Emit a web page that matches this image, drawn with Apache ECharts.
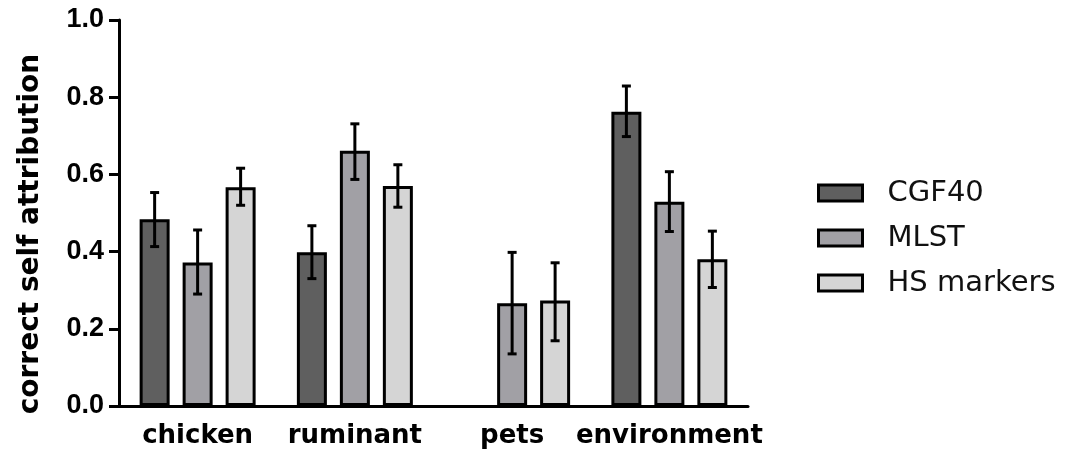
<!DOCTYPE html>
<html>
<head>
<meta charset="utf-8">
<title>correct self attribution</title>
<script src="https://cdn.jsdelivr.net/npm/echarts@6/dist/echarts.min.js"></script>
<style>
  html, body { margin: 0; padding: 0; background: #fff; }
  #chart { width: 1070px; height: 452px; }
</style>
</head>
<body>
<div id="chart"></div>
<script>
// Source groups on the x axis
const categories = ['chicken', 'ruminant', 'pets', 'environment'];
const seriesNames = ['CGF40', 'MLST', 'HS markers'];

// Mean correct self attribution per method (null = not available)
const cgf40Values = [0.484, 0.398, null, 0.762];
const mlstValues  = [0.372, 0.661, 0.266, 0.529];
const hsValues    = [0.567, 0.570, 0.273, 0.380];

// Lower / upper ends of the error bars
const cgf40Low  = [0.413, 0.330, null, 0.698];
const cgf40High = [0.553, 0.467, null, 0.829];
const mlstLow   = [0.290, 0.587, 0.135, 0.452];
const mlstHigh  = [0.456, 0.731, 0.398, 0.607];
const hsLow     = [0.520, 0.515, 0.169, 0.307];
const hsHigh    = [0.616, 0.625, 0.371, 0.453];

const yTicks = [0, 0.2, 0.4, 0.6, 0.8, 1.0];

const colors = ['#5f5f5f', '#a1a0a5', '#d5d5d5'];
const BAR_W = 30;
const BAR_GAP = 0.433;

const values = [cgf40Values, mlstValues, hsValues];
const lows = [cgf40Low, mlstLow, hsLow];
const highs = [cgf40High, mlstHigh, hsHigh];

const barSeries = seriesNames.map((name, i) => ({
  name: name,
  type: 'bar',
  data: values[i],
  barWidth: BAR_W,
  barGap: (BAR_GAP * 100) + '%',
  itemStyle: { color: colors[i], borderColor: '#000', borderWidth: 3 },
  emphasis: { disabled: true },
  z: 2
}));

// Error bars drawn on top of each bar, shifted to that bar's slot in the group
const errorSeries = seriesNames.map((name, i) => ({
  type: 'custom',
  name: name + ' error',
  data: categories.map((c, k) => lows[i][k] == null ? null : [k, lows[i][k], highs[i][k]]),
  z: 5,
  silent: true,
  renderItem: function (params, api) {
    const k = api.value(0);
    const shift = (i - 1) * BAR_W * (1 + BAR_GAP);
    const lo = api.coord([k, api.value(1)]);
    const hi = api.coord([k, api.value(2)]);
    const x = lo[0] + shift;
    const cap = 4.5;
    const style = { stroke: '#000', lineWidth: 3 };
    return {
      type: 'group',
      children: [
        { type: 'line', shape: { x1: x, y1: lo[1], x2: x, y2: hi[1] }, style: style },
        { type: 'line', shape: { x1: x - cap, y1: hi[1], x2: x + cap, y2: hi[1] }, style: style },
        { type: 'line', shape: { x1: x - cap, y1: lo[1], x2: x + cap, y2: lo[1] }, style: style }
      ]
    };
  },
  encode: { x: 0, y: [1, 2] }
}));

const chart = echarts.init(document.getElementById('chart'), null, { renderer: 'canvas' });

chart.setOption({
  animation: false,
  backgroundColor: '#fff',
  grid: { left: 119, right: 322, top: 20, bottom: 46, containLabel: false },
  legend: {
    data: seriesNames,
    orient: 'vertical',
    left: 817,
    top: 177,
    padding: 0,
    icon: 'rect',
    itemWidth: 44,
    itemHeight: 16,
    itemGap: 13,
    itemStyle: { borderColor: '#000', borderWidth: 3 },
    textStyle: {
      fontFamily: 'DejaVu Sans',
      fontSize: 29,
      color: '#111',
      lineHeight: 32,
      padding: [0, 0, 0, 20]
    },
    selectedMode: false
  },
  xAxis: {
    type: 'category',
    data: categories,
    axisLine: { lineStyle: { color: '#000', width: 3 } },
    axisTick: { alignWithLabel: true, length: 10, lineStyle: { color: '#000', width: 3 } },
    axisLabel: {
      color: '#000',
      fontFamily: 'DejaVu Sans',
      fontWeight: 'bold',
      fontSize: 26,
      margin: 17,
      interval: 0
    },
    splitLine: { show: false }
  },
  yAxis: {
    type: 'value',
    min: yTicks[0],
    max: yTicks[yTicks.length - 1],
    interval: 0.2,
    axisLine: { show: true, lineStyle: { color: '#000', width: 3 } },
    axisTick: { show: true, length: 10, lineStyle: { color: '#000', width: 3 } },
    axisLabel: {
      color: '#000',
      fontFamily: 'Liberation Sans',
      fontWeight: 'bold',
      fontSize: 27,
      margin: 15,
      formatter: v => v.toFixed(1)
    },
    splitLine: { show: false }
  },
  graphic: [{
    type: 'text',
    x: 31,
    y: 234,
    rotation: Math.PI / 2,
    style: {
      text: 'correct self attribution',
      fontFamily: 'DejaVu Sans',
      fontWeight: 'bold',
      fontSize: 28,
      fill: '#000',
      textAlign: 'center',
      textVerticalAlign: 'middle'
    }
  }],
  series: barSeries.concat(errorSeries)
});
</script>
</body>
</html>
